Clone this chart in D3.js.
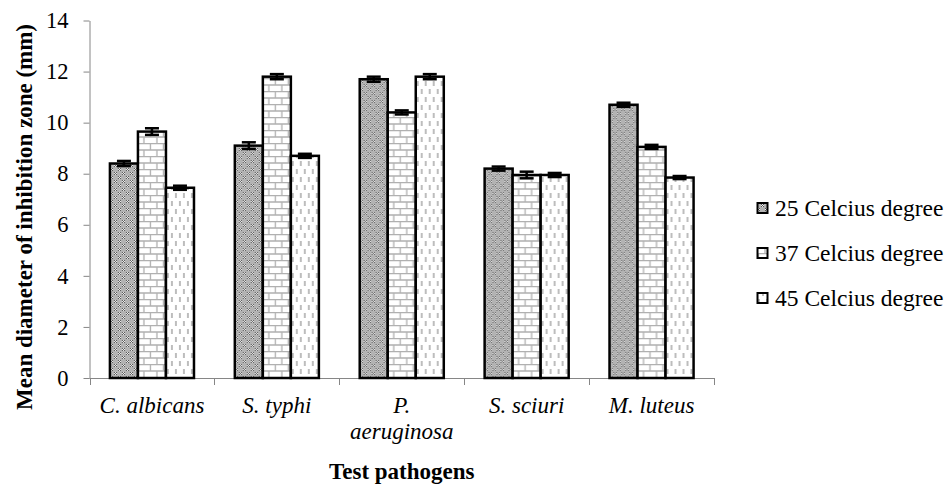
<!DOCTYPE html>
<html>
<head>
<meta charset="utf-8">
<script src="https://d3js.org/d3.v7.min.js"></script>
<style>
    body { margin: 0; background: #fff; }
</style>
</head>
<body>
<script>
//chart data
var pathogens = ["C. albicans", "S. typhi", "P. aeruginosa", "S. sciuri", "M. luteus"];
var seriesNames = ["25 Celcius degree", "37 Celcius degree", "45 Celcius degree"];
var temp25 = [8.4, 9.1, 11.7, 8.2, 10.7];
var temp37 = [9.65, 11.8, 10.4, 7.95, 9.05];
var temp45 = [7.45, 8.7, 11.8, 7.95, 7.85];
var err25 = [0.1, 0.13, 0.1, 0.08, 0.08];
var err37 = [0.13, 0.1, 0.08, 0.13, 0.08];
var err45 = [0.08, 0.08, 0.1, 0.08, 0.06];
var yTicks = [0, 2, 4, 6, 8, 10, 12, 14];

window.onload = function(){

    var w = 945, h = 485;
    var left = 89.5, right = 714, top = 20.5, bottom = 378;
    var serif = '"Liberation Serif", "Times New Roman", Times, serif';

    var svg = d3.select("body")
        .append("svg")
        .attr("width", w)
        .attr("height", h);

    var defs = svg.append("defs");

    //pattern for 25 degree (gray with tiny checkers)
    var p1 = defs.append("pattern")
        .attr("id", "pat25")
        .attr("patternUnits", "userSpaceOnUse")
        .attr("width", 8).attr("height", 8);
    p1.append("rect").attr("width", 8).attr("height", 8).attr("fill", "#b3b3b3");
    [[0, 0], [4, 4]].forEach(function(o){
        for (var i = 0; i < 3; i++){
            for (var j = 0; j < 3; j++){
                p1.append("rect")
                    .attr("x", o[0] + i).attr("y", o[1] + j)
                    .attr("width", 1).attr("height", 1)
                    .attr("fill", (i + j) % 2 === 0 ? "#555" : "#f2f2f2");
            }
        }
    });

    //pattern for 37 degree (bricks)
    var p2 = defs.append("pattern")
        .attr("id", "pat37")
        .attr("patternUnits", "userSpaceOnUse")
        .attr("width", 13).attr("height", 13);
    p2.append("rect").attr("width", 13).attr("height", 13).attr("fill", "#fff");
    p2.append("path")
        .attr("d", "M0,0.5H13M0,7H13M1.5,0.5V7M8,7V13")
        .attr("stroke", "#b0b0b0")
        .attr("stroke-width", 1.3)
        .attr("fill", "none");

    //pattern for 45 degree (dashed verticals)
    var p3 = defs.append("pattern")
        .attr("id", "pat45")
        .attr("patternUnits", "userSpaceOnUse")
        .attr("width", 8).attr("height", 16);
    p3.append("rect").attr("width", 8).attr("height", 16).attr("fill", "#fff");
    p3.append("path")
        .attr("d", "M2,1V6M6,9V14")
        .attr("stroke", "#9a9a9a")
        .attr("stroke-width", 1.3)
        .attr("fill", "none");

    var fills = ["url(#pat25)", "url(#pat37)", "url(#pat45)"];

    //build rows from the arrays
    var rows = pathogens.map(function(p, i){
        return {
            name: p,
            vals: [
                {s: 0, v: temp25[i], e: err25[i]},
                {s: 1, v: temp37[i], e: err37[i]},
                {s: 2, v: temp45[i], e: err45[i]}
            ]
        };
    });

    //scales
    var x0 = d3.scaleBand()
        .domain(pathogens)
        .range([left, right])
        .paddingInner(0.327)
        .paddingOuter(0.1635);

    var x1 = d3.scaleBand()
        .domain([0, 1, 2])
        .range([0, x0.bandwidth()]);

    var y = d3.scaleLinear()
        .domain([0, 14])
        .range([bottom, top]);

    //y axis
    var yAxis = svg.append("g")
        .attr("transform", "translate(" + left + ",0)")
        .call(d3.axisLeft(y).tickValues(yTicks).tickSize(6).tickPadding(15).tickSizeOuter(0));
    yAxis.select(".domain").attr("stroke", "#868686");
    yAxis.selectAll(".tick line").attr("stroke", "#868686");
    yAxis.selectAll(".tick text")
        .style("font-family", serif)
        .style("font-size", "22.5px")
        .attr("fill", "#000");

    //x axis: ticks at band boundaries
    var step = x0.step();
    var boundaries = d3.range(pathogens.length + 1).map(function(i){ return left + i * step; });
    var xAxis = svg.append("g");
    xAxis.append("line")
        .attr("x1", left).attr("x2", right)
        .attr("y1", bottom + 0.5).attr("y2", bottom + 0.5)
        .attr("stroke", "#868686");
    xAxis.selectAll(".xtick")
        .data(boundaries)
        .enter()
        .append("line")
        .attr("class", "xtick")
        .attr("x1", function(d){ return Math.round(d) + 0.5; })
        .attr("x2", function(d){ return Math.round(d) + 0.5; })
        .attr("y1", bottom)
        .attr("y2", bottom + 7)
        .attr("stroke", "#868686");

    //bars
    var groups = svg.selectAll(".group")
        .data(rows)
        .enter()
        .append("g")
        .attr("class", "group")
        .attr("transform", function(d){ return "translate(" + x0(d.name) + ",0)"; });

    groups.selectAll(".bar")
        .data(function(d){ return d.vals; })
        .enter()
        .append("rect")
        .attr("class", "bar")
        .attr("x", function(d){ return x1(d.s); })
        .attr("y", function(d){ return y(d.v); })
        .attr("width", x1.bandwidth())
        .attr("height", function(d){ return bottom - y(d.v); })
        .attr("fill", function(d){ return fills[d.s]; })
        .attr("stroke", "#000")
        .attr("stroke-width", 2.5);

    //error bars
    var capW = 14;
    var eb = groups.selectAll(".err")
        .data(function(d){ return d.vals; })
        .enter()
        .append("g")
        .attr("class", "err")
        .attr("stroke", "#000")
        .attr("stroke-width", 2.5);
    eb.append("line")
        .attr("x1", function(d){ return x1(d.s) + x1.bandwidth() / 2; })
        .attr("x2", function(d){ return x1(d.s) + x1.bandwidth() / 2; })
        .attr("y1", function(d){ return y(d.v + d.e); })
        .attr("y2", function(d){ return y(d.v - d.e); });
    eb.append("line")
        .attr("x1", function(d){ return x1(d.s) + x1.bandwidth() / 2 - capW / 2; })
        .attr("x2", function(d){ return x1(d.s) + x1.bandwidth() / 2 + capW / 2; })
        .attr("y1", function(d){ return y(d.v + d.e); })
        .attr("y2", function(d){ return y(d.v + d.e); });
    eb.append("line")
        .attr("x1", function(d){ return x1(d.s) + x1.bandwidth() / 2 - capW / 2; })
        .attr("x2", function(d){ return x1(d.s) + x1.bandwidth() / 2 + capW / 2; })
        .attr("y1", function(d){ return y(d.v - d.e); })
        .attr("y2", function(d){ return y(d.v - d.e); });

    //category labels (split genus and species for long names)
    var catLabels = svg.selectAll(".cat")
        .data(pathogens)
        .enter()
        .append("text")
        .attr("class", "cat")
        .attr("text-anchor", "middle")
        .style("font-family", serif)
        .style("font-size", "23px")
        .style("font-style", "italic")
        .attr("y", 413);
    catLabels.each(function(d){
        var t = d3.select(this);
        var cx = x0(d) + x0.bandwidth() / 2;
        var lines = d.length > 12 ? d.split(" ") : [d];
        lines.forEach(function(l, i){
            t.append("tspan")
                .attr("x", cx)
                .attr("dy", i === 0 ? 0 : 26)
                .text(l);
        });
    });

    //axis titles
    svg.append("text")
        .attr("text-anchor", "middle")
        .style("font-family", serif)
        .style("font-size", "23px")
        .style("font-weight", "bold")
        .attr("x", (left + right) / 2)
        .attr("y", 479)
        .text("Test pathogens");

    svg.append("text")
        .attr("text-anchor", "middle")
        .style("font-family", serif)
        .style("font-size", "23px")
        .style("font-weight", "bold")
        .attr("transform", "translate(32,217) rotate(-90)")
        .text("Mean diameter of inhibition zone (mm)");

    //legend
    var legend = svg.selectAll(".legend")
        .data(seriesNames)
        .enter()
        .append("g")
        .attr("class", "legend")
        .attr("transform", function(d, i){ return "translate(757," + (208 + i * 45) + ")"; });
    legend.append("rect")
        .attr("x", 0.5).attr("y", -5)
        .attr("width", 10).attr("height", 10)
        .attr("fill", function(d, i){ return fills[i]; })
        .attr("stroke", "#000")
        .attr("stroke-width", 2);
    legend.append("text")
        .attr("x", 18)
        .attr("y", 8)
        .style("font-family", serif)
        .style("font-size", "23.5px")
        .text(function(d){ return d; });
};
</script>
</body>
</html>
